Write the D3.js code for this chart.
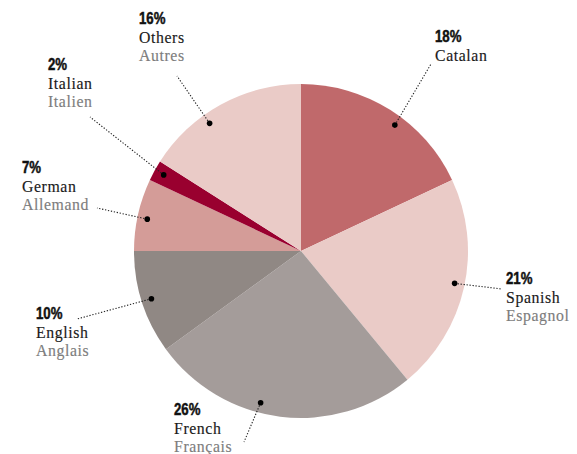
<!DOCTYPE html>
<html>
<head>
<meta charset="utf-8">
<script src="https://cdn.jsdelivr.net/npm/d3@7"></script>
<style>
  html, body { margin: 0; padding: 0; background: #fff; }
  svg { display: block; }
  .pct { font-family: "Liberation Sans", Arial, sans-serif; font-weight: bold; font-size: 16.5px; fill: #111; stroke: #111; stroke-width: 0.5px; }
  .en { font-family: "Liberation Serif", "Times New Roman", serif; font-size: 15.8px; letter-spacing: 0.6px; fill: #1a1a1a; stroke: #1a1a1a; stroke-width: 0.15px; }
  .fr { font-family: "Liberation Serif", "Times New Roman", serif; font-size: 15.8px; letter-spacing: 0.6px; fill: #7d7d7d; stroke: #7d7d7d; stroke-width: 0.15px; }
</style>
</head>
<body>
<script>
// ---- data ----
const languagesEn = ["Catalan", "Spanish", "French", "English", "German", "Italian", "Others"];
const languagesFr = ["Catalan", "Espagnol", "Français", "Anglais", "Allemand", "Italien", "Autres"];
const shares = [18, 21, 26, 10, 7, 2, 16];
const sliceColors = ["#c0696b", "#eacbc7", "#a49c9a", "#908884", "#d49c98", "#99002f", "#eacbc7"];

// ---- layout (label anchors, leader ends, dot angle nudges in degrees) ----
const labelX = [435, 506, 174, 36, 22, 48, 139];
const labelY = [42, 284, 415, 319, 173, 70, 24];
const leaderEndX = [431, 502, 244, 77, 97, 90, 177];
const leaderEndY = [64, 289, 442, 319, 208, 117, 76];
const dotAngleShift = [4.3, -0.7, 7.7, 0.3, -0.9, 0.2, -6.8];

const W = 577, H = 454;
const cx = 301, cy = 251, R = 167, dotR = 157;

const svg = d3.select("body").append("svg").attr("width", W).attr("height", H);
const g = svg.append("g").attr("transform", `translate(${cx},${cy})`);

const data = languagesEn.map((d, i) => ({ en: d, fr: languagesFr[i], v: shares[i], i }));
const pie = d3.pie().value(d => d.v).sort(null);
const arc = d3.arc().innerRadius(0).outerRadius(R);
const arcs = pie(data);

g.selectAll("path.slice").data(arcs).enter().append("path")
  .attr("class", "slice")
  .attr("d", arc)
  .attr("fill", d => sliceColors[d.data.i]);

const ang = d => (d.startAngle + d.endAngle) / 2 + dotAngleShift[d.data.i] * Math.PI / 180;
const dotPos = d => [cx + dotR * Math.sin(ang(d)), cy - dotR * Math.cos(ang(d))];

svg.selectAll("line.leader").data(arcs).enter().append("line")
  .attr("class", "leader")
  .attr("x1", d => dotPos(d)[0]).attr("y1", d => dotPos(d)[1])
  .attr("x2", d => leaderEndX[d.data.i]).attr("y2", d => leaderEndY[d.data.i])
  .attr("stroke", "#222").attr("stroke-width", 1.1).attr("stroke-dasharray", "1.3,1.7");

svg.selectAll("circle.dot").data(arcs).enter().append("circle")
  .attr("class", "dot")
  .attr("cx", d => dotPos(d)[0]).attr("cy", d => dotPos(d)[1])
  .attr("r", 2.8).attr("fill", "#000");

const lab = svg.selectAll("g.lab").data(arcs).enter().append("g")
  .attr("class", "lab")
  .attr("transform", d => `translate(${labelX[d.data.i]},${labelY[d.data.i]})`);
lab.append("text").attr("class", "pct").attr("transform", "scale(0.8,1)").text(d => d.data.v + "%");
lab.append("text").attr("class", "en").attr("x", 0).attr("y", 18.5).text(d => d.data.en);
lab.filter(d => d.data.fr !== d.data.en)
  .append("text").attr("class", "fr").attr("x", 0).attr("y", 37).text(d => d.data.fr);
</script>
</body>
</html>
